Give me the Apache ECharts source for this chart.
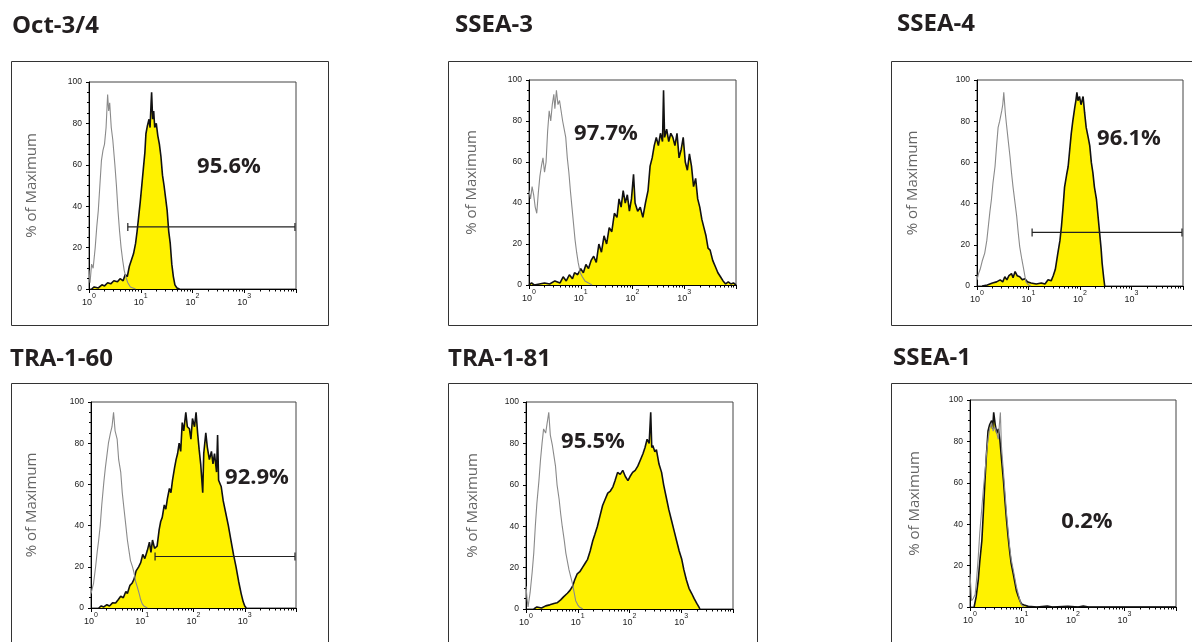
<!DOCTYPE html>
<html>
<head>
<meta charset="utf-8">
<script src="https://cdn.jsdelivr.net/npm/echarts@6/dist/echarts.min.js"></script>
<style>html,body{margin:0;padding:0;background:#fff}#c{width:1192px;height:642px}</style>
</head>
<body>
<div id="c"></div>
<script>
// ---------- DATA (x = log10 fluorescence exponent, y = % of maximum) ----------
const panelNames = ['Oct-3/4', 'SSEA-3', 'SSEA-4', 'TRA-1-60', 'TRA-1-81', 'SSEA-1'];
const percentLabels = ['95.6%', '97.7%', '96.1%', '92.9%', '95.5%', '0.2%'];
const xTickExponents = [0, 1, 2, 3];
const yTicks = [0, 20, 40, 60, 80, 100];

const octControl = [[0,9],[0.02,3],[0.05,12],[0.08,10],[0.12,20],[0.15,30],[0.18,38],[0.21,50],[0.24,62],[0.27,67],[0.3,70],[0.33,78],[0.36,94],[0.38,86],[0.4,90],[0.43,78],[0.46,72],[0.5,60],[0.53,50],[0.56,38],[0.59,28],[0.62,20],[0.65,14],[0.68,9],[0.71,6],[0.75,3],[0.8,1],[0.9,0]];
const octSample = [[0.05,0],[0.1,1],[0.18,0.5],[0.25,2],[0.3,1.5],[0.36,3],[0.42,2.5],[0.48,4],[0.55,3.5],[0.6,5],[0.66,4],[0.7,7],[0.74,6],[0.78,11],[0.82,14],[0.86,17],[0.9,22],[0.93,28],[0.96,35],[0.99,42],[1.02,50],[1.05,58],[1.08,66],[1.1,75],[1.13,79],[1.16,82],[1.18,78],[1.2,90],[1.21,95],[1.23,82],[1.25,86],[1.27,78],[1.3,80],[1.33,74],[1.36,70],[1.39,64],[1.42,55],[1.45,50],[1.48,44],[1.51,38],[1.54,28],[1.57,22],[1.6,12],[1.63,6],[1.66,2],[1.7,0.5],[1.75,0]];
const octGate = [0.75, 3.98, 30];

const ssea3Control = [[0,46],[0.03,42],[0.06,48],[0.09,44],[0.12,38],[0.15,35],[0.18,45],[0.21,53],[0.24,58],[0.27,62],[0.3,55],[0.33,60],[0.36,75],[0.39,85],[0.42,80],[0.45,88],[0.48,93],[0.5,86],[0.53,95],[0.56,88],[0.59,90],[0.62,85],[0.65,80],[0.68,76],[0.71,72],[0.74,62],[0.77,55],[0.8,46],[0.83,38],[0.86,30],[0.89,22],[0.92,16],[0.95,11],[0.99,6],[1.03,4],[1.08,2],[1.15,1],[1.22,0]];
const ssea3Sample = [[0,0],[0.05,1],[0.1,0],[0.2,0.5],[0.3,1],[0.4,0.5],[0.5,2],[0.6,1],[0.66,4],[0.72,2],[0.78,5],[0.84,3],[0.88,6],[0.94,5],[1.0,8],[1.05,6],[1.1,10],[1.15,8],[1.2,12],[1.25,14],[1.3,11],[1.35,20],[1.4,16],[1.45,24],[1.5,20],[1.55,28],[1.6,26],[1.65,35],[1.7,33],[1.74,42],[1.78,38],[1.82,46],[1.86,40],[1.9,44],[1.94,36],[1.98,42],[2.02,54],[2.05,40],[2.1,36],[2.15,38],[2.2,33],[2.25,40],[2.3,46],[2.34,58],[2.38,62],[2.42,68],[2.46,72],[2.5,68],[2.54,74],[2.58,70],[2.6,95],[2.62,72],[2.66,76],[2.7,70],[2.74,74],[2.78,72],[2.82,68],[2.86,74],[2.9,62],[2.94,66],[2.98,72],[3.02,60],[3.06,56],[3.1,64],[3.14,58],[3.18,48],[3.22,52],[3.26,42],[3.3,38],[3.34,32],[3.38,28],[3.42,24],[3.46,18],[3.5,17],[3.55,12],[3.6,9],[3.65,6],[3.7,4],[3.75,2],[3.8,0.5],[3.85,1.5],[3.9,0.5],[3.95,1],[4,0]];

const ssea4Control = [[0,3],[0.03,6],[0.06,8],[0.1,12],[0.15,16],[0.19,22],[0.22,29],[0.25,36],[0.28,42],[0.31,50],[0.35,58],[0.38,68],[0.41,77],[0.44,80],[0.48,85],[0.5,88],[0.52,94],[0.55,84],[0.57,79],[0.6,72],[0.64,63],[0.67,55],[0.7,48],[0.74,40],[0.77,34],[0.8,26],[0.83,19],[0.87,13],[0.9,9],[0.95,2],[1.0,0.5],[1.05,0]];
const ssea4Sample = [[0.1,0],[0.2,0.5],[0.3,1.5],[0.38,2],[0.45,3],[0.5,2],[0.54,4.5],[0.58,3],[0.62,5],[0.67,6],[0.7,4],[0.74,7],[0.78,5],[0.83,4.5],[0.88,3],[0.93,3.5],[0.98,2],[1.05,1.5],[1.15,1],[1.25,1.5],[1.32,1],[1.38,3],[1.44,2.5],[1.48,5],[1.52,8],[1.57,16],[1.61,22],[1.64,29],[1.67,38],[1.7,48],[1.74,54],[1.77,58],[1.8,66],[1.83,74],[1.86,80],[1.9,87],[1.92,90],[1.94,94],[1.96,90],[1.99,92],[2.02,88],[2.06,92],[2.09,84],[2.12,77],[2.16,72],[2.19,68],[2.22,60],[2.25,55],[2.28,48],[2.32,42],[2.35,34],[2.38,26],[2.41,18],[2.43,11],[2.46,4],[2.48,0]];
const ssea4Gate = [1.07, 3.98, 26];

const tra160Control = [[0,7],[0.03,10],[0.05,12],[0.09,20],[0.12,27],[0.15,33],[0.18,40],[0.21,50],[0.25,61],[0.28,68],[0.31,74],[0.34,80],[0.38,85],[0.41,88],[0.44,95],[0.47,86],[0.51,82],[0.54,72],[0.58,66],[0.61,56],[0.64,49],[0.68,40],[0.71,33],[0.74,28],[0.77,23],[0.81,20],[0.84,17],[0.87,13],[0.9,10.5],[0.94,7],[0.97,4],[1.0,2],[1.03,1],[1.1,0]];
const tra160Sample = [[0.15,0],[0.2,1],[0.25,0.5],[0.31,1.6],[0.36,1],[0.42,2.5],[0.48,2.4],[0.53,4],[0.58,5.7],[0.63,5],[0.68,8],[0.71,7],[0.76,11],[0.8,12],[0.84,14],[0.88,18],[0.93,20],[0.97,22],[1.01,26],[1.05,24],[1.1,28],[1.14,32],[1.17,27],[1.2,33],[1.24,29],[1.29,30],[1.33,38],[1.36,42],[1.39,44],[1.43,50],[1.46,48],[1.49,53],[1.53,58],[1.56,56],[1.59,62],[1.63,68],[1.66,72],[1.69,75],[1.72,80],[1.75,76],[1.78,90],[1.81,86],[1.85,95],[1.88,88],[1.92,87],[1.95,82],[1.98,92],[2.02,88],[2.05,95],[2.08,85],[2.11,77],[2.14,70],[2.18,56],[2.2,75],[2.24,85],[2.27,78],[2.31,72],[2.35,76],[2.38,70],[2.41,75],[2.45,66],[2.47,84],[2.49,62],[2.54,59],[2.58,52],[2.63,46],[2.68,40],[2.73,33],[2.78,26],[2.83,20],[2.88,13],[2.93,7],[2.97,3],[3.0,1],[3.03,0]];
const tra160Gate = [1.25, 3.98, 25];

const tra181Control = [[0,11],[0.02,5],[0.04,1],[0.08,8],[0.12,18],[0.15,27],[0.18,40],[0.21,51],[0.25,62],[0.28,72],[0.31,80],[0.34,87],[0.38,85],[0.41,90],[0.44,95],[0.47,84],[0.51,79],[0.54,74],[0.57,69],[0.6,60],[0.64,53],[0.67,46],[0.7,40],[0.74,33],[0.77,27],[0.8,23],[0.83,19],[0.87,15],[0.9,12],[0.93,8],[0.96,4],[1.0,2],[1.03,1],[1.1,0]];
const tra181Sample = [[0.15,0],[0.21,1],[0.3,0.5],[0.38,1.5],[0.46,2],[0.54,2.7],[0.6,3],[0.67,4.4],[0.73,6],[0.8,7.6],[0.85,9],[0.9,11],[0.94,14],[0.99,17],[1.04,18],[1.09,20],[1.14,22],[1.19,24],[1.24,28],[1.29,33],[1.33,36],[1.38,40],[1.43,45],[1.48,50],[1.53,53],[1.58,56],[1.63,57],[1.68,59],[1.72,62],[1.77,66],[1.82,65],[1.87,67],[1.92,64],[1.97,62],[2.01,64],[2.06,66],[2.11,67],[2.16,69],[2.21,72],[2.26,75],[2.3,78],[2.34,82],[2.38,80],[2.41,95],[2.43,78],[2.45,79],[2.49,76],[2.52,77],[2.57,70],[2.62,66],[2.66,60],[2.71,54],[2.76,48],[2.81,43],[2.86,38],[2.91,33],[2.96,28],[3.01,24],[3.05,19],[3.1,14],[3.15,10],[3.2,7.6],[3.25,5],[3.3,2.7],[3.34,1],[3.36,0]];

const ssea1Control = [[0,16],[0.02,8],[0.03,3],[0.06,4],[0.1,6],[0.13,14],[0.16,24],[0.19,36],[0.23,48],[0.26,57],[0.29,65],[0.32,74],[0.35,81],[0.38,86],[0.42,89],[0.45,85],[0.48,87],[0.52,84],[0.55,81],[0.57,88],[0.59,94],[0.61,78],[0.65,65],[0.68,55],[0.71,45],[0.74,37],[0.77,29],[0.8,23],[0.84,18],[0.87,14],[0.9,10],[0.94,6],[0.97,3],[1.0,1],[1.05,0]];
const ssea1Sample = [[0.08,0],[0.12,5],[0.16,13],[0.19,22],[0.23,32],[0.26,46],[0.29,61],[0.32,74],[0.35,85],[0.38,88],[0.42,90],[0.44,86],[0.46,94],[0.49,88],[0.52,84],[0.55,86],[0.58,81],[0.61,72],[0.65,61],[0.68,51],[0.71,42],[0.74,34],[0.77,27],[0.8,21],[0.84,16],[0.87,12],[0.9,8],[0.94,5],[0.97,3],[1.0,1.5],[1.05,1],[1.13,0.3],[1.3,0],[1.5,0.5],[1.6,0],[1.9,0.3],[2.1,0],[2.2,0.5],[2.3,0],[4,0]];

const controls = [octControl, ssea3Control, ssea4Control, tra160Control, tra181Control, ssea1Control];
const samples = [octSample, ssea3Sample, ssea4Sample, tra160Sample, tra181Sample, ssea1Sample];
const gates = [octGate, null, ssea4Gate, tra160Gate, null, null];

// ---------- LAYOUT ----------
const grids = [
  {left: 89, top: 82, width: 207, height: 207, nameGap: 50},
  {left: 529, top: 80, width: 207, height: 205, nameGap: 50},
  {left: 977, top: 80, width: 206, height: 206, nameGap: 57},
  {left: 91, top: 402, width: 205, height: 206, nameGap: 52},
  {left: 526, top: 402, width: 207, height: 207, nameGap: 46},
  {left: 970, top: 400, width: 206, height: 207, nameGap: 48}
];
const titlePos = [[12, 26], [455, 25], [897, 24], [10, 359], [448, 359], [893, 358]];
const pctPos = [[229, 167], [606, 134], [1129, 139], [257, 478], [593, 442], [1087, 522]];
const boxes = [[11, 61, 317, 264], [448, 61, 309, 264], [891, 61, 310, 264], [11, 383, 317, 300], [448, 383, 309, 300], [891, 383, 310, 300]];

const minorVals = [];
for (let d = 0; d < 4; d++) for (let k = 2; k <= 9; k++) minorVals.push(d + Math.log10(k));

const TXT = '#231f20';
const option = {
  animation: false,
  backgroundColor: '#fff',
  grid: [], xAxis: [], yAxis: [], series: [], graphic: []
};

grids.forEach((g, i) => {
  option.grid.push({left: g.left, top: g.top, width: g.width, height: g.height,
    show: true, borderColor: '#444', borderWidth: 1, backgroundColor: 'transparent'});
  option.xAxis.push({
    type: 'value', gridIndex: i, min: 0, max: 4, interval: 1,
    axisLine: {onZero: false, lineStyle: {color: '#000', width: 1}},
    axisTick: {length: 4, lineStyle: {color: '#000'}},
    splitLine: {show: false},
    axisLabel: {
      margin: 4,
      formatter: v => xTickExponents.indexOf(v) >= 0 ? '{b|10}{s|' + v + '}' : '',
      rich: {
        b: {fontSize: 9, fontFamily: 'Liberation Sans', color: '#222', lineHeight: 14, verticalAlign: 'bottom'},
        s: {fontSize: 7, fontFamily: 'Liberation Sans', color: '#222', lineHeight: 9, verticalAlign: 'top'}
      }
    }
  });
  option.xAxis.push({
    type: 'value', gridIndex: i, min: 0, max: 4, position: 'bottom',
    axisLine: {show: false},
    axisTick: {show: true, length: 2.5, customValues: minorVals, lineStyle: {color: '#000'}},
    axisLabel: {show: false, customValues: minorVals},
    splitLine: {show: false}
  });
  option.yAxis.push({
    type: 'value', gridIndex: i, min: 0, max: 100, interval: 20,
    name: '% of Maximum', nameLocation: 'middle', nameGap: g.nameGap,
    nameTextStyle: {fontFamily: 'Open Sans', fontSize: 15, color: '#666'},
    axisLine: {show: true, lineStyle: {color: '#000', width: 1}},
    axisTick: {show: true, length: 3, lineStyle: {color: '#000'}},
    minorTick: {show: true, splitNumber: 4, length: 2, lineStyle: {color: '#000'}},
    splitLine: {show: false},
    axisLabel: {fontSize: 8.5, fontFamily: 'Liberation Sans', color: '#222', margin: 7,
      formatter: v => yTicks.indexOf(v) >= 0 ? String(v) : ''}
  });
  option.series.push({
    type: 'line', xAxisIndex: i * 2, yAxisIndex: i, data: samples[i],
    showSymbol: false, symbol: 'none', z: 2,
    lineStyle: {color: '#111', width: 1.6},
    areaStyle: {color: '#fff200', opacity: 1}
  });
  option.series.push({
    type: 'line', xAxisIndex: i * 2, yAxisIndex: i, data: controls[i],
    showSymbol: false, symbol: 'none', z: 3,
    lineStyle: {color: '#8a8a8a', width: 1.1}
  });
  if (gates[i]) {
    option.series.push({
      type: 'custom', xAxisIndex: i * 2, yAxisIndex: i, data: [gates[i]], z: 4,
      renderItem: (params, api) => {
        const p1 = api.coord([api.value(0), api.value(2)]);
        const p2 = api.coord([api.value(1), api.value(2)]);
        const st = {stroke: '#222', lineWidth: 1.2};
        return {type: 'group', children: [
          {type: 'line', shape: {x1: p1[0], y1: p1[1], x2: p2[0], y2: p2[1]}, style: st},
          {type: 'line', shape: {x1: p1[0], y1: p1[1] - 4, x2: p1[0], y2: p1[1] + 4}, style: st},
          {type: 'line', shape: {x1: p2[0], y1: p2[1] - 4, x2: p2[0], y2: p2[1] + 4}, style: st}
        ]};
      }
    });
  }
  const b = boxes[i];
  option.graphic.push({type: 'rect', silent: true, shape: {x: b[0] + 0.5, y: b[1] + 0.5, width: b[2], height: b[3]},
    style: {fill: 'none', stroke: '#333', lineWidth: 1}, z: 0});
  option.graphic.push({type: 'text', x: titlePos[i][0], y: titlePos[i][1],
    style: {text: panelNames[i], fontFamily: 'Open Sans', fontWeight: 'bold', fontSize: 24, fill: TXT,
      align: 'left', verticalAlign: 'middle'}});
  option.graphic.push({type: 'text', x: pctPos[i][0], y: pctPos[i][1], z: 10,
    style: {text: percentLabels[i], fontFamily: 'Open Sans', fontWeight: 'bold', fontSize: 22, fill: TXT,
      align: 'center', verticalAlign: 'middle'}});
});

const chart = echarts.init(document.getElementById('c'));
chart.setOption(option);
</script>
</body>
</html>
